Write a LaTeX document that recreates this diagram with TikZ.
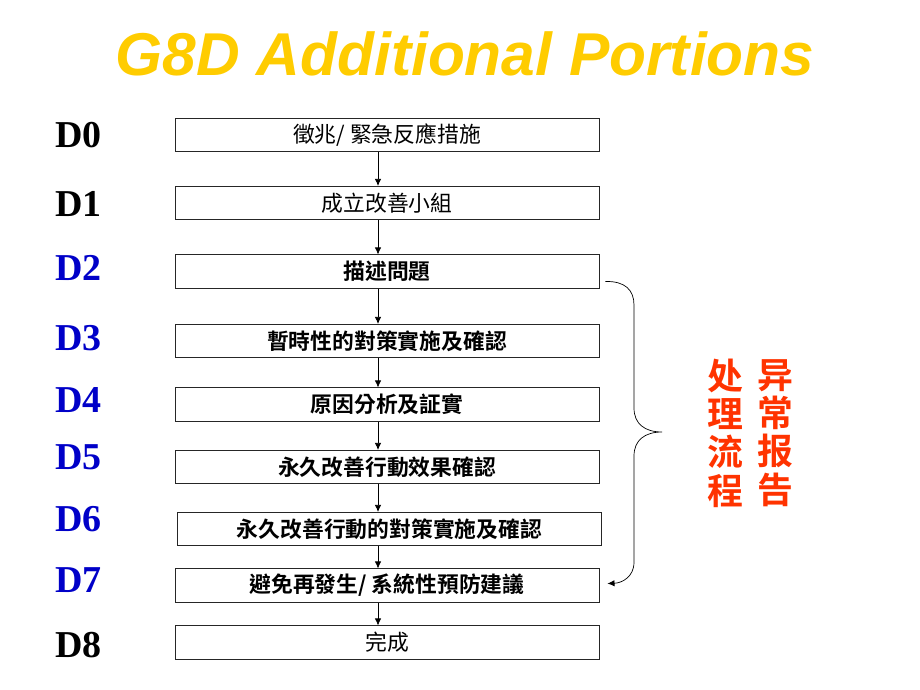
\documentclass[tikz,border=0pt]{standalone}
\usepackage{fontspec}
\usepackage{xcolor}
\usetikzlibrary{arrows.meta}
\setmainfont{Liberation Serif}
\newfontfamily\titlefont{Liberation Sans}
\newfontfamily\cjk{Noto Sans CJK TC}[BoldFont={Noto Sans CJK TC Bold}]
\newfontfamily\cjksc{Noto Sans CJK SC}[BoldFont={Noto Sans CJK SC Bold}]
\definecolor{titleyellow}{RGB}{255,204,0}
\definecolor{dblue}{RGB}{0,0,200}
\definecolor{redtext}{RGB}{255,51,0}

\begin{document}
\begin{tikzpicture}[x=0.025cm,y=-0.025cm,
    stepbox/.style={draw=black!85, line width=0.6pt, minimum width=10.6cm, minimum height=0.83cm, inner sep=0pt, font=\cjk\fontsize{15.5}{18}\selectfont},
    dlabel/.style={anchor=west, inner sep=0pt, font=\bfseries\fontsize{27}{30}\selectfont},
    flow/.style={-{Latex[length=5pt,width=4.5pt]}, line width=0.5pt}]
                \useasboundingbox (0,0) rectangle (920,690);
                \node[anchor=base, inner sep=0pt, text=titleyellow, font=\titlefont\bfseries\itshape\fontsize{43}{46}\selectfont] (title) at (465,75) {G8D Additional Portions};
                % steps
                \node[stepbox] (d0) at (387,135) {徵兆/ 緊急反應措施};
                \node[stepbox] (d1) at (387,203) {成立改善小組};
                \node[stepbox, font=\cjk\bfseries\fontsize{15.5}{18}\selectfont] (d2) at (387,271.5) {描述問題};
                \node[stepbox, font=\cjk\bfseries\fontsize{15.5}{18}\selectfont] (d3) at (387,341) {暫時性的對策實施及確認};
                \node[stepbox, font=\cjk\bfseries\fontsize{15.5}{18}\selectfont] (d4) at (387,404.5) {原因分析及証實};
                \node[stepbox, font=\cjk\bfseries\fontsize{15.5}{18}\selectfont] (d5) at (387,467) {永久改善行動效果確認};
                \node[stepbox, font=\cjk\bfseries\fontsize{15.5}{18}\selectfont] (d6) at (389.5,529) {永久改善行動的對策實施及確認};
                \node[stepbox, font=\cjk\bfseries\fontsize{15.5}{18}\selectfont] (d7) at (387,585.5) {避免再發生/ 系統性預防建議};
                \node[stepbox] (d8) at (387,642.5) {完成};
                % labels
                \node[dlabel] (l0) at (55,135) {D0};
                \node[dlabel] (l1) at (55,204) {D1};
                \node[dlabel, text=dblue] (l2) at (55,268) {D2};
                \node[dlabel, text=dblue] (l3) at (55,338) {D3};
                \node[dlabel, text=dblue] (l4) at (55,400) {D4};
                \node[dlabel, text=dblue] (l5) at (55,457) {D5};
                \node[dlabel, text=dblue] (l6) at (55,519) {D6};
                \node[dlabel, text=dblue] (l7) at (55,580) {D7};
                \node[dlabel] (l8) at (55,645) {D8};
                % arrows
                \coordinate (ax) at (378,0);
                \foreach \a/\b in {d0/d1,d1/d2,d2/d3,d3/d4,d4/d5,d5/d6,d6/d7,d7/d8}
                    \draw[flow] (\a.south -| ax) -- (\b.north -| ax);
                % brace
                \coordinate (bs) at ([shift={(6,10)}]d2.east);
                \coordinate (tip) at (662,432);
                \draw[flow] (bs) .. controls (625,281) and (634,290) .. (634,305) -- (634,408)
                    .. controls (634,424) and (645,432) .. (tip)
                    .. controls (645,432) and (634,440) .. (634,456) -- (634,562)
                    .. controls (634,577) and (622,583) .. ([shift={(8,-2)}]d7.east);
                \node[text=redtext, align=center, inner sep=0pt, font=\cjksc\bfseries\fontsize{25.5}{27.3}\selectfont] (rep) at (775,433) {异\\常\\报\\告};
                \node[text=redtext, align=center, inner sep=0pt, font=\cjksc\bfseries\fontsize{25.5}{27.3}\selectfont] (proc) at (725,433) {处\\理\\流\\程};
            \end{tikzpicture}
\end{document}
